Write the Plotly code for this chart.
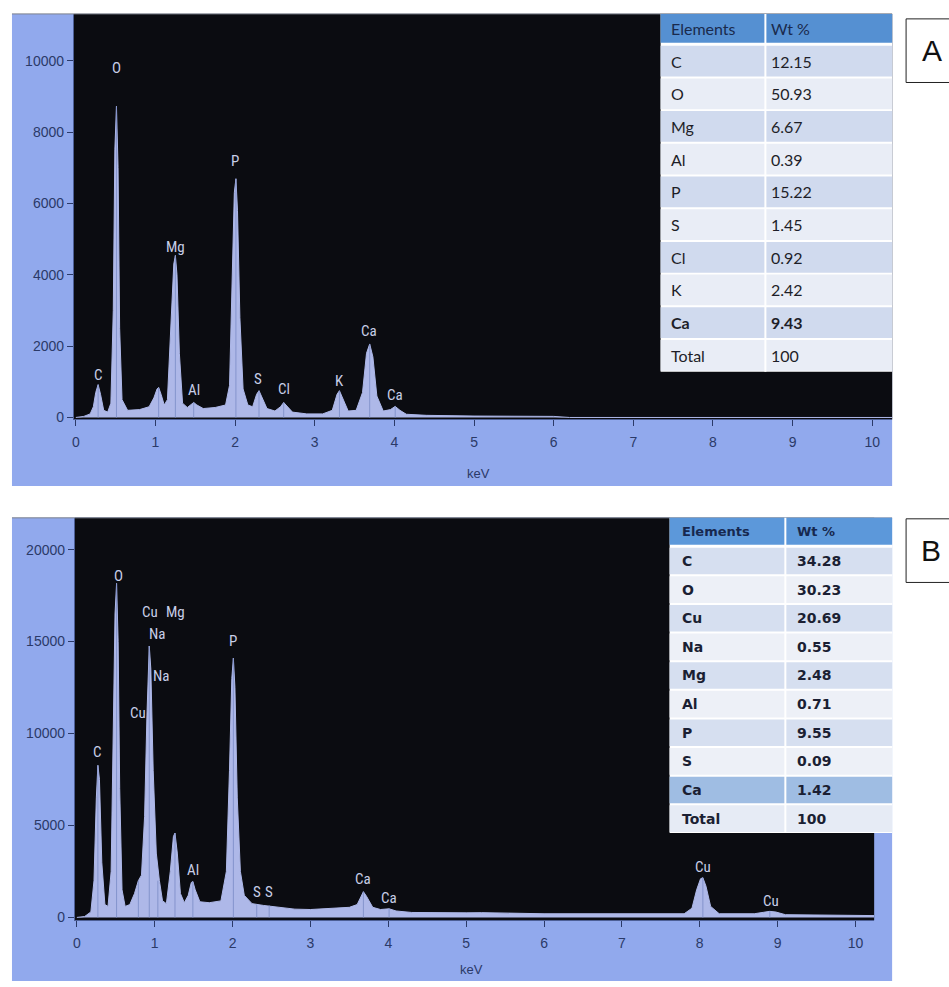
import plotly.graph_objects as go

# ---------------- Panel A data ----------------
a_kev = [0.00, 0.10, 0.18, 0.22, 0.25, 0.28, 0.31, 0.35, 0.40, 0.44, 0.47, 0.49, 0.51, 0.53, 0.55, 0.58,
         0.65, 0.80, 0.92, 0.98, 1.02, 1.04, 1.07, 1.11, 1.15, 1.19, 1.23, 1.25, 1.27, 1.30, 1.34,
         1.40, 1.45, 1.48, 1.52, 1.60, 1.75, 1.88, 1.93, 1.96, 1.99, 2.01, 2.03, 2.06, 2.10, 2.16,
         2.22, 2.27, 2.30, 2.33, 2.40, 2.50, 2.57, 2.61, 2.65, 2.72, 2.90, 3.10, 3.22, 3.28, 3.31,
         3.35, 3.42, 3.52, 3.60, 3.65, 3.69, 3.73, 3.78, 3.86, 3.95, 4.01, 4.07, 4.15, 4.40, 5.00,
         5.50, 6.00, 6.20, 10.25]
a_counts = [0, 30, 100, 300, 700, 920, 650, 200, 150, 400, 3000, 7500, 8720, 7000, 2500, 500,
            200, 220, 300, 550, 800, 840, 650, 350, 500, 2500, 4300, 4540, 4000, 1800, 400,
            280, 380, 420, 350, 250, 280, 350, 900, 3500, 6300, 6690, 5800, 2800, 800, 350,
            300, 650, 750, 600, 250, 180, 300, 420, 320, 150, 100, 100, 200, 650, 750,
            550, 180, 200, 700, 1800, 2060, 1700, 600, 180, 220, 310, 200, 90, 60, 40,
            40, 30, 0, 0]

a_marker_kev = [0.28, 0.51, 1.04, 1.25, 1.48, 2.01, 2.30, 2.61, 3.31, 3.69, 4.01]
a_marker_top = [920, 8720, 840, 4540, 420, 6690, 750, 420, 750, 2060, 310]

a_label_text = ["C", "O", "Mg", "Al", "P", "S", "Cl", "K", "Ca", "Ca"]
a_label_kev = [0.28, 0.51, 1.25, 1.48, 2.00, 2.29, 2.62, 3.31, 3.68, 4.01]
a_label_cnt = [1200, 9800, 4780, 780, 7190, 1090, 790, 1030, 2420, 640]

a_tab_header = ["Elements", "Wt %"]
a_tab_elements = ["C", "O", "Mg", "Al", "P", "S", "Cl", "K", "<b>Ca</b>", "Total"]
a_tab_wt = ["12.15", "50.93", "6.67", "0.39", "15.22", "1.45", "0.92", "2.42", "<b>9.43</b>", "100"]

a_yticks = [0, 2000, 4000, 6000, 8000, 10000]

# ---------------- Panel B data ----------------
b_kev = [0.00, 0.10, 0.18, 0.22, 0.25, 0.27, 0.29, 0.32, 0.36, 0.40, 0.44, 0.47, 0.49, 0.51, 0.53, 0.55,
         0.58, 0.62, 0.68, 0.74, 0.79, 0.83, 0.87, 0.90, 0.93, 0.95, 0.98, 1.02, 1.06, 1.10, 1.15,
         1.20, 1.24, 1.26, 1.29, 1.33, 1.38, 1.43, 1.47, 1.49, 1.52, 1.58, 1.70, 1.85, 1.92, 1.96,
         1.99, 2.01, 2.03, 2.06, 2.10, 2.15, 2.25, 2.40, 2.60, 2.80, 3.00, 3.30, 3.50, 3.60, 3.65,
         3.68, 3.72, 3.80, 3.90, 4.01, 4.10, 4.30, 5.00, 5.20, 6.00, 7.00, 7.80, 7.90, 7.96, 8.01,
         8.04, 8.08, 8.14, 8.25, 8.70, 8.82, 8.90, 8.98, 9.10, 10.24]
b_counts = [0, 50, 300, 2000, 6500, 8270, 7500, 3000, 700, 600, 2500, 11000, 16500, 18160, 15000, 7000,
            1500, 600, 700, 1300, 2000, 2300, 5500, 11000, 14760, 13500, 8000, 3500, 2000, 900, 750,
            2500, 4400, 4590, 3500, 1300, 800, 1200, 1900, 1950, 1500, 850, 800, 900, 2500, 8000,
            13000, 14100, 12500, 6500, 2500, 1200, 750, 650, 550, 450, 430, 480, 550, 700, 1200,
            1400, 1150, 550, 430, 470, 350, 270, 250, 260, 200, 180, 200, 500, 1500, 2100,
            2160, 1700, 600, 200, 200, 280, 330, 290, 150, 100]

b_marker_kev = [0.27, 0.51, 0.79, 0.93, 1.04, 1.26, 1.49, 2.01, 2.31, 2.47, 3.68, 4.01, 8.04, 8.90]
b_marker_top = [8270, 18160, 2000, 14760, 2000, 4590, 1950, 14100, 700, 650, 1400, 470, 2160, 330]

b_label_text = ["C", "O", "Cu", "Mg", "Na", "Na", "Cu", "Al", "P", "S", "S", "Ca", "Ca", "Cu", "Cu"]
b_label_kev = [0.27, 0.53, 0.94, 1.27, 1.03, 1.08, 0.78, 1.49, 2.01, 2.31, 2.47, 3.68, 4.01, 8.04, 8.91]
b_label_cnt = [8970, 18540, 16590, 16590, 15400, 13130, 11140, 2600, 15030, 1400, 1400, 2100, 1080, 2760, 920]

b_tab_header = ["Elements", "Wt %"]
b_tab_elements = ["C", "O", "Cu", "Na", "Mg", "Al", "P", "S", "Ca", "Total"]
b_tab_wt = ["34.28", "30.23", "20.69", "0.55", "2.48", "0.71", "9.55", "0.09", "1.42", "100"]

b_yticks = [0, 5000, 10000, 15000, 20000]

x_ticks = list(range(0, 11))

# ---------------- styling ----------------
W, H = 949, 987
FRAME = "#91a9ed"
FILL = "#aeb8e8"
BG = "#0b0c11"
TICKC = "#2b3a68"
LABELC = "#c8cfe8"
MARKC = "#8494cc"
NARROW = "Liberation Sans Narrow, Roboto Condensed, Roboto, sans-serif"
TICKFAM = "Liberation Sans, Arial, sans-serif"


def px(x):
    return x / W


def py(y):
    return 1 - y / H


def marker_xy(kevs, tops):
    xs, ys = [], []
    for k, t in zip(kevs, tops):
        xs += [k, k, None]
        ys += [0, t, None]
    return xs, ys


fig = go.Figure()

fig.add_trace(go.Scatter(x=a_kev, y=a_counts, mode="lines", fill="tozeroy",
                         fillcolor=FILL, line=dict(color=FILL, width=1),
                         xaxis="x", yaxis="y", hoverinfo="skip", showlegend=False))
mx, my = marker_xy(a_marker_kev, a_marker_top)
fig.add_trace(go.Scatter(x=mx, y=my, mode="lines", line=dict(color=MARKC, width=1),
                         xaxis="x", yaxis="y", hoverinfo="skip", showlegend=False))

fig.add_trace(go.Scatter(x=b_kev, y=b_counts, mode="lines", fill="tozeroy",
                         fillcolor=FILL, line=dict(color=FILL, width=1),
                         xaxis="x2", yaxis="y2", hoverinfo="skip", showlegend=False))
mx, my = marker_xy(b_marker_kev, b_marker_top)
fig.add_trace(go.Scatter(x=mx, y=my, mode="lines", line=dict(color=MARKC, width=1),
                         xaxis="x2", yaxis="y2", hoverinfo="skip", showlegend=False))

shapes = [
    dict(type="rect", xref="paper", yref="paper", x0=px(10), x1=px(892), y0=py(489), y1=py(14),
         fillcolor=FRAME, line=dict(width=0), layer="below"),
    dict(type="rect", xref="paper", yref="paper", x0=px(10), x1=px(892), y0=py(987), y1=py(521),
         fillcolor=FRAME, line=dict(width=0), layer="below"),
    dict(type="rect", xref="paper", yref="paper", x0=px(72), x1=px(892), y0=py(422), y1=py(14),
         fillcolor=BG, line=dict(width=0), layer="below"),
    dict(type="rect", xref="paper", yref="paper", x0=px(73), x1=px(874), y0=py(926), y1=py(521),
         fillcolor=BG, line=dict(width=0), layer="below"),
    dict(type="line", xref="paper", yref="paper", x0=px(10), x1=px(892), y0=py(14), y1=py(14),
         line=dict(color="#7a7f8c", width=1)),
    dict(type="line", xref="paper", yref="paper", x0=px(10), x1=px(892), y0=py(521), y1=py(521),
         line=dict(color="#7a7f8c", width=1)),
    dict(type="rect", xref="paper", yref="paper", x0=px(906), x1=px(975), y0=py(83), y1=py(19),
         fillcolor="white", line=dict(color="#222", width=1)),
    dict(type="rect", xref="paper", yref="paper", x0=px(906), x1=px(975), y0=py(586), y1=py(522),
         fillcolor="white", line=dict(color="#222", width=1)),
]
annotations = []


def add_table(x0, xdiv, x1, top, head_h, row_h, n_rows, header, col1, col2,
              head_fill, row_fills, head_font, cell_font, gap, pad1, pad2):
    bottom = top + head_h + gap + row_h * n_rows
    shapes.append(dict(type="rect", xref="paper", yref="paper", x0=px(x0), x1=px(x1),
                       y0=py(bottom), y1=py(top), fillcolor="white", line=dict(width=0)))
    shapes.append(dict(type="rect", xref="paper", yref="paper", x0=px(x0), x1=px(x1),
                       y0=py(top + head_h), y1=py(top), fillcolor=head_fill, line=dict(width=0)))
    for i, fill in enumerate(row_fills):
        r0 = top + head_h + gap + i * row_h
        shapes.append(dict(type="rect", xref="paper", yref="paper", x0=px(x0), x1=px(x1),
                           y0=py(r0 + row_h - 1), y1=py(r0 + 1), fillcolor=fill, line=dict(width=0)))
    shapes.append(dict(type="line", xref="paper", yref="paper", x0=px(xdiv), x1=px(xdiv),
                       y0=py(bottom), y1=py(top), line=dict(color="white", width=2)))
    cy = top + head_h / 2
    for txt, xx in zip(header, [x0 + pad1, xdiv + pad2]):
        annotations.append(dict(text=txt, x=px(xx), y=py(cy), xref="paper", yref="paper",
                                xanchor="left", yanchor="middle", showarrow=False, font=head_font))
    for i, (a, b) in enumerate(zip(col1, col2)):
        cy = top + head_h + gap + i * row_h + row_h / 2
        for txt, xx in zip([a, b], [x0 + pad1, xdiv + pad2]):
            annotations.append(dict(text=txt, x=px(xx), y=py(cy), xref="paper", yref="paper",
                                    xanchor="left", yanchor="middle", showarrow=False, font=cell_font))


a_rows = ["#d0daee", "#e9edf6"] * 5
add_table(660, 765, 892, 14, 29, 32.9, len(a_tab_elements), a_tab_header, a_tab_elements, a_tab_wt,
          "#5590d2", a_rows,
          dict(family="Lato, Roboto, sans-serif", size=16, color="#1a2a4c"),
          dict(family="Lato, Roboto, sans-serif", size=16, color="#1e1e28"), 2, 8, 4)

b_rows = ["#d6dff0", "#edf0f7"] * 4 + ["#9fbde3", "#e6ebf5"]
add_table(669, 785, 892, 521, 27, 28.8, len(b_tab_elements),
          [f"<b>{h}</b>" for h in b_tab_header],
          [f"<b>{e}</b>" for e in b_tab_elements], [f"<b>{v}</b>" for v in b_tab_wt],
          "#5c98da", b_rows,
          dict(family="DejaVu Sans, Verdana, sans-serif", size=13, color="#17284f"),
          dict(family="DejaVu Sans, Verdana, sans-serif", size=14, color="#1b1f33"), 2, 10, 10)

for t, x, y in zip(a_label_text, a_label_kev, a_label_cnt):
    annotations.append(dict(text=t, x=x, y=y, xref="x", yref="y", showarrow=False,
                            font=dict(family=NARROW, size=15, color=LABELC)))
for t, x, y in zip(b_label_text, b_label_kev, b_label_cnt):
    annotations.append(dict(text=t, x=x, y=y, xref="x2", yref="y2", showarrow=False,
                            font=dict(family=NARROW, size=15, color=LABELC)))

annotations.append(dict(text="keV", x=px(478), y=py(476), xref="paper", yref="paper",
                        xanchor="center", yanchor="middle", showarrow=False,
                        font=dict(family=TICKFAM, size=13, color=TICKC)))
annotations.append(dict(text="keV", x=px(470), y=py(975), xref="paper", yref="paper",
                        xanchor="center", yanchor="middle", showarrow=False,
                        font=dict(family=TICKFAM, size=13, color=TICKC)))
annotations.append(dict(text="A", x=px(932), y=py(51), xref="paper", yref="paper",
                        xanchor="center", yanchor="middle", showarrow=False,
                        font=dict(family="Liberation Sans, Arial, sans-serif", size=30, color="#111")))
annotations.append(dict(text="B", x=px(931), y=py(554), xref="paper", yref="paper",
                        xanchor="center", yanchor="middle", showarrow=False,
                        font=dict(family="Liberation Sans, Arial, sans-serif", size=30, color="#111")))

tickfont = dict(family=TICKFAM, size=14, color=TICKC)
axis_common = dict(showgrid=False, zeroline=False, ticks="outside", ticklen=6, tickwidth=1,
                   tickcolor=TICKC, tickfont=tickfont, showline=True, linecolor="#4d5f96",
                   linewidth=1, fixedrange=True, tickformat="d")

fig.update_layout(
    width=W, height=H, margin=dict(l=0, r=0, t=0, b=0),
    paper_bgcolor="white", plot_bgcolor=BG, showlegend=False,
    xaxis=dict(domain=[px(72), px(892)], range=[-0.025, 10.25], anchor="y",
               tickvals=x_ticks, ticklabelstandoff=4, **axis_common),
    yaxis=dict(domain=[py(422), py(14)], range=[-55, 11310], anchor="x",
               tickvals=a_yticks, **axis_common),
    xaxis2=dict(domain=[px(73), px(874)], range=[-0.026, 10.24], anchor="y2",
                tickvals=x_ticks, ticklabelstandoff=4, **axis_common),
    yaxis2=dict(domain=[py(926), py(521)], range=[-160, 21730], anchor="x2",
                tickvals=b_yticks, **axis_common),
    annotations=annotations, shapes=shapes,
)

fig.write_html("out.html")
